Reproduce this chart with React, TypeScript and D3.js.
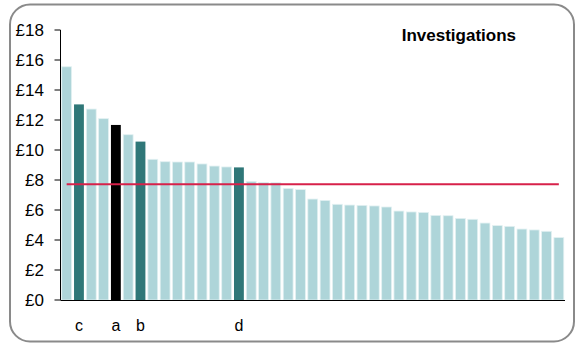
import React from "react";
import * as d3 from "d3";

const values: number[] = [
  15.55, 13.04, 12.73, 12.09, 11.67, 11.02, 10.56, 9.38, 9.22, 9.2, 9.2, 9.07, 8.93, 8.87, 8.84,
  7.91, 7.84, 7.82, 7.44, 7.36, 6.73, 6.64, 6.38, 6.33, 6.31, 6.27, 6.2, 5.93, 5.87, 5.84,
  5.64, 5.62, 5.44, 5.38, 5.13, 4.96, 4.91, 4.73, 4.67, 4.58, 4.16,
];
const highlights: string[] = [
  "", "c", "", "", "a", "", "b", "", "", "", "", "", "", "", "d",
  "", "", "", "", "", "", "", "", "", "", "", "", "", "", "",
  "", "", "", "", "", "", "", "", "", "", "",
];
const average = 7.71;
const yTicks = [0, 2, 4, 6, 8, 10, 12, 14, 16, 18];
const title = "Investigations";

export default function App() {
  const W = 576, H = 344;
  const x0 = 60.5, x1 = 565, yTop = 30, yBot = 300;
  const idx = values.map((_, i) => i);
  const x = d3.scaleBand<number>().domain(idx).range([x0, x1]).paddingInner(0.2).paddingOuter(0.1);
  const y = d3.scaleLinear().domain([0, 18]).range([yBot, yTop]);
  const colorFor = (i: number) =>
    highlights[i] === "a" ? "#000000" : highlights[i] ? "#2f7778" : "#aed5d9";
  const font = "Arial, 'Liberation Sans', sans-serif";
  const firstC = (x(0) as number) + x.bandwidth() / 2;
  const lastC = (x(values.length - 1) as number) + x.bandwidth() / 2;
  return (
    <svg width={W} height={H} style={{ position: "absolute", left: 0, top: 0 }}>
      <rect x={0} y={0} width={W} height={H} fill="#fff" />
      <rect x={10} y={4.5} width={564} height={337} rx={20} ry={20} fill="#fff" stroke="#8a8a8a" strokeWidth={2} />
      {values.map((v, i) => (
        <rect
          key={i}
          x={x(i)}
          y={y(v)}
          width={x.bandwidth()}
          height={yBot - y(v)}
          fill={colorFor(i)}
          stroke={highlights[i] ? "none" : "#e3f1f2"}
          strokeWidth={highlights[i] ? 0 : 0.8}
        />
      ))}
      <line x1={firstC} x2={lastC} y1={y(average)} y2={y(average)} stroke="#d7214a" strokeWidth={2} />
      <line x1={x0} x2={x0} y1={yTop} y2={yBot} stroke="#000" strokeWidth={1} />
      <line x1={x0} x2={x1} y1={yBot + 0.5} y2={yBot + 0.5} stroke="#000" strokeWidth={1} />
      {yTicks.map((t) => (
        <g key={t}>
          <line x1={x0 - 6} x2={x0} y1={y(t)} y2={y(t)} stroke="#000" strokeWidth={1} />
          <text x={44} y={y(t)} dy="0.36em" textAnchor="end" fontFamily={font} fontSize={17} fill="#000">
            £{t}
          </text>
        </g>
      ))}
      {highlights.map((h, i) =>
        h ? (
          <text key={i} x={(x(i) as number) + x.bandwidth() / 2} y={331} textAnchor="middle" fontFamily={font} fontSize={16} fill="#000">
            {h}
          </text>
        ) : null
      )}
      <text x={516} y={41} textAnchor="end" fontFamily={font} fontSize={17} fontWeight="bold" fill="#000">
        {title}
      </text>
    </svg>
  );
}
